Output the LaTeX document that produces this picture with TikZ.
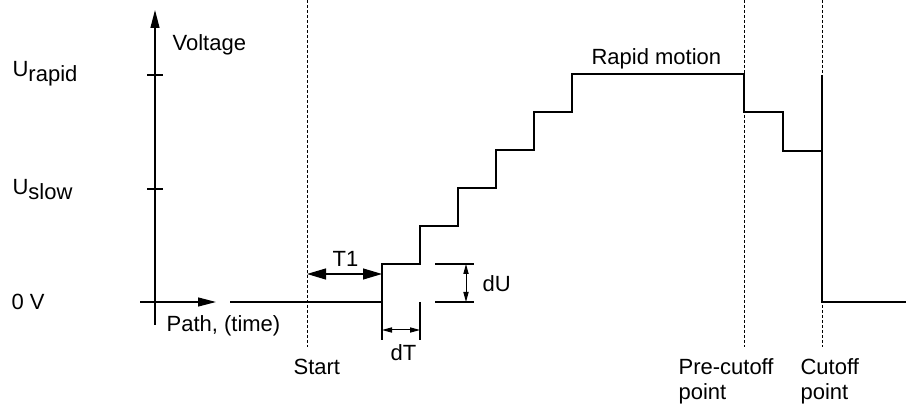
\documentclass[tikz,border=0pt]{standalone}
\usepackage{fontspec}
\setmainfont{Liberation Sans}
\usetikzlibrary{arrows.meta}
\tikzset{
  lbl/.style={anchor=base west,inner sep=0pt,align=left,font=\fontsize{11}{12.5}\selectfont},
  guide/.style={line width=0.45pt,dash pattern=on 1.5pt off 1pt},
  axis/.style={-{Triangle[length=9pt,width=4.5pt]}},
  bigdim/.style={{Triangle[length=9.5pt,width=5.5pt]}-{Triangle[length=9.5pt,width=5.5pt]}},
  smalldim/.style={line width=0.5pt,{Triangle[length=5pt,width=2.6pt]}-{Triangle[length=5pt,width=2.6pt]}}
}
\begin{document}
\begin{tikzpicture}[x=0.5pt,y=-0.5pt,line width=0.6pt]
\useasboundingbox (0,0) rectangle (906,406);
% axes
\coordinate (ybot) at (155,325);
\coordinate (ytop) at (155,10);
\coordinate (xleft) at (140,302);
\coordinate (xright) at (216,302);
\draw[axis] (ybot) -- (ytop);
\draw[axis] (xleft) -- (xright);
\draw (147,75) -- (163,75);
\draw (147,189) -- (163,189);
% guide lines
\coordinate (start) at (307,347);
\coordinate (precut) at (744,347);
\coordinate (cutoff) at (822,347);
\draw[guide] (307,0) -- (start);
\draw[guide] (744,0) -- (precut);
\draw[guide] (822,0) -- (cutoff);
% voltage curve
\coordinate (rise) at (382,302);
\coordinate (step1) at (420,264);
\draw (230,302) -- (rise) -- (382,264) -- (step1) -- (420,226) -- (458,226)
  -- (458,188) -- (496,188) -- (496,150) -- (534,150) -- (534,112) -- (572,112)
  -- (572,74) -- (744,74) -- (744,112) -- (783,112) -- (783,151) -- (822,151)
  -- (822,302) -- (906,302);
\draw (822,75) -- (822,151);
% dimensions
\coordinate (t1a) at (307,274);
\coordinate (t1b) at (382,274);
\draw[bigdim] (t1a) -- (t1b);
\coordinate (dta) at (382,330);
\coordinate (dtb) at (420,330);
\draw (rise) -- (382,340);
\draw (420,302) -- (420,340);
\draw[smalldim] (dta) -- (dtb);
\coordinate (dua) at (466,264);
\coordinate (dub) at (466,302);
\draw (435,264) -- (474,264);
\draw (435,302) -- (474,302);
\draw[smalldim] (dua) -- (dub);
% labels
\node[lbl] (volt) at (172,51) {Voltage};
\node[lbl] (urapid) at (12,77) {U\raisebox{-2.5pt}{rapid}};
\node[lbl] (uslow) at (12,195) {U\raisebox{-2.5pt}{slow}};
\node[lbl] (zero) at (11,310) {0 V};
\node[lbl] (path) at (166,332) {Path, (time)};
\node[lbl] (t1) at (332,267) {T1};
\node[lbl] (du) at (482,292) {dU};
\node[lbl] (dt) at (390,361) {dT};
\node[lbl] (startlbl) at (293,375) {Start};
\node[lbl] (rapid) at (591,65) {Rapid motion};
\node[lbl] (prelbl) at (678,400) {Pre-cutoff\\point};
\node[lbl] (cutlbl) at (800,400) {Cutoff\\point};
\end{tikzpicture}
\end{document}
